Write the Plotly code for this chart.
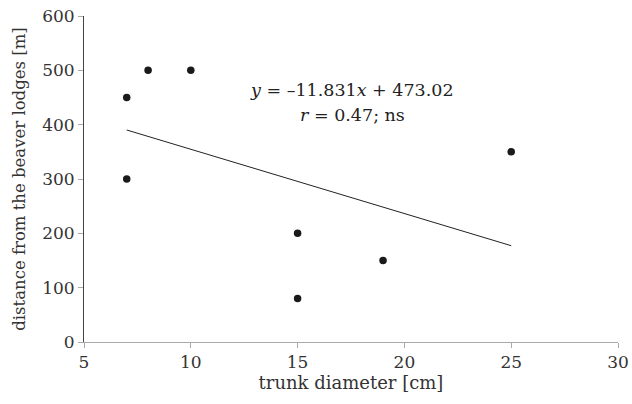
import plotly.graph_objects as go

trunk_diameter = [7, 7, 8, 10, 15, 15, 19, 25]
distance = [450, 300, 500, 500, 200, 80, 150, 350]
slope = -11.831
intercept = 473.02
trend_x = [min(trunk_diameter), max(trunk_diameter)]
trend_y = [slope * v + intercept for v in trend_x]

FONT = "DejaVu Serif"
L, R, T, B = 84, 14, 16, 61.5
PW, PH = 632 - L - R, 404 - T - B

fig = go.Figure()
fig.add_trace(go.Scatter(x=trend_x, y=trend_y, mode="lines",
                         line=dict(color="#222", width=1), showlegend=False, hoverinfo="skip"))
fig.add_trace(go.Scatter(x=trunk_diameter, y=distance, mode="markers",
                         marker=dict(color="#1a1a1a", size=7.5), showlegend=False))

fig.add_annotation(
    x=(352 - L) / PW, y=(404 - B - 90) / PH, xref="paper", yref="paper",
    text="<i>y</i> = –11.831<i>x</i> + 473.02", showarrow=False,
    font=dict(family=FONT, size=17.5, color="#222"), xanchor="center", yanchor="middle")
fig.add_annotation(
    x=(352 - L) / PW, y=(404 - B - 115) / PH, xref="paper", yref="paper",
    text="<i>r</i> = 0.47; ns", showarrow=False,
    font=dict(family=FONT, size=17.5, color="#222"), xanchor="center", yanchor="middle")

fig.update_layout(
    width=632, height=404,
    margin=dict(l=L, r=R, t=T, b=B),
    paper_bgcolor="white", plot_bgcolor="white",
    font=dict(family=FONT, size=16, color="#333"),
    xaxis=dict(range=[5, 30], tickvals=[5, 10, 15, 20, 25, 30], showgrid=False, zeroline=False,
               showline=True, linecolor="#aaa", linewidth=1, ticks="outside", ticklen=5,
               tickcolor="#aaa", automargin=False,
               title=dict(text="trunk diameter [cm]", standoff=3, font=dict(size=18)),
               tickfont=dict(size=17)),
    yaxis=dict(range=[0, 600], tickvals=[0, 100, 200, 300, 400, 500, 600], showgrid=False,
               zeroline=False, showline=True, linecolor="#444", linewidth=1, ticks="outside",
               ticklen=5, tickcolor="#aaa", automargin=False,
               title=dict(text="distance from the beaver lodges [m]", standoff=12, font=dict(size=16.5)),
               tickfont=dict(size=17)),
)
fig.write_html("out.html", config={"displayModeBar": False},
               post_script="document.body.style.margin='0';document.body.style.padding='0';")
